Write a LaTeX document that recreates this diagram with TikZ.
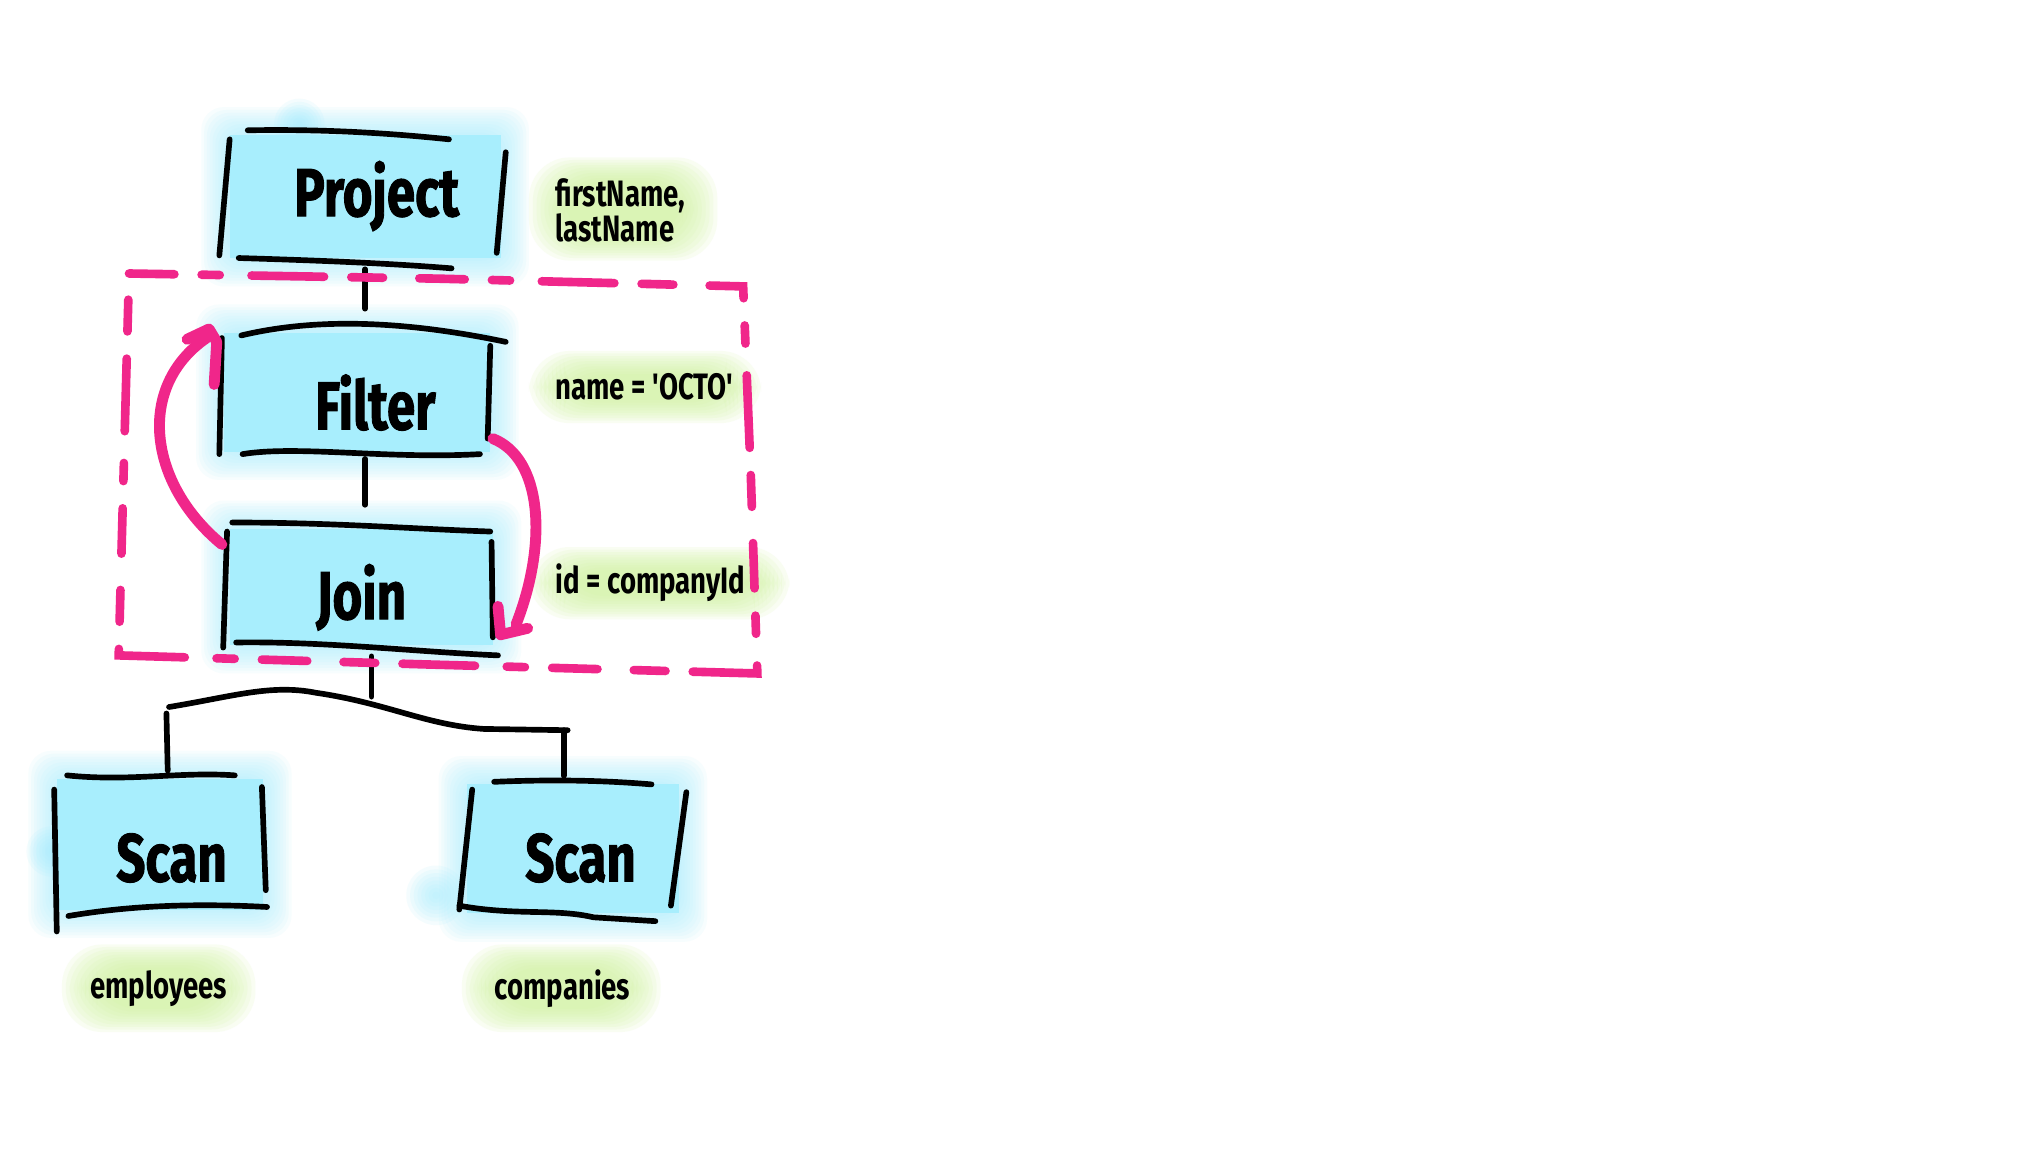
\documentclass[tikz,border=0pt]{standalone}
\usepackage{fontspec}
\newfontfamily\hand[FakeStretch=0.75]{Fira Sans}
\newfontfamily\handheavy[FakeStretch=0.75,FakeBold=1.3]{Fira Sans}
\usetikzlibrary{calc}
\definecolor{boxcyan}{HTML}{A8EEFD}
\definecolor{pinkc}{HTML}{F0268A}
\definecolor{glowgreen}{HTML}{D2F4A0}
\newcommand\cyanglow[4]{%
  \fill[boxcyan] (#1,#2) rectangle (#3,#4);
  \foreach \k in {1,...,10}{\fill[boxcyan,opacity=0.09,rounded corners=5pt] (#1-\k*2.2,#2-\k*2.2) rectangle (#3+\k*2.2,#4+\k*2.2);}}
\newcommand\cyanblob[3]{%
  \foreach \k in {1,...,8}{\fill[boxcyan,opacity=0.12] (#1,#2) circle (#3-\k*#3/9);}}
\newcommand\greenglow[4]{%
  \foreach \k in {0,...,9}{\fill[glowgreen,opacity=0.13,rounded corners=9pt] (#1+\k*3,#2+\k*2) rectangle (#3-\k*3,#4-\k*2);}}
\begin{document}
\begin{tikzpicture}[x=0.01cm,y=-0.01cm,
  sketch/.style={line width=1.25pt, line cap=round, line join=round, draw=black},
  pinkdash/.style={draw=pinkc, line width=1.9pt, line cap=round, dash pattern=on 10pt off 6pt on 4pt off 7pt on 16pt off 6pt on 7pt off 8pt},
  pinkarrow/.style={draw=pinkc, line width=2.4pt, line cap=round, line join=round},
  boxtext/.style={font=\handheavy\bfseries\fontsize{15}{18}\selectfont, inner sep=0},
  labeltext/.style={font=\hand\bfseries\fontsize{8.1}{7.8}\selectfont, inner sep=0, align=left},
  boxnode/.style={inner sep=0, minimum width=2.1cm}]
\useasboundingbox (0,0) rectangle (1568,904);
\fill[white] (0,0) rectangle (1568,904);

% glows
\cyanglow{178}{105}{388}{200}
\cyanblob{232}{96}{22}
\cyanglow{174}{258}{380}{350}
\cyanglow{178}{410}{382}{500}
\cyanglow{44}{604}{204}{705}
\cyanblob{40}{660}{22}
\cyanglow{362}{608}{526}{708}
\cyanblob{338}{694}{26}
\greenglow{410}{122}{556}{202}
\greenglow{410}{272}{590}{328}
\greenglow{410}{424}{612}{480}
\greenglow{48}{732}{198}{800}
\greenglow{358}{732}{512}{800}

% invisible box nodes
\node[boxnode, minimum height=1.12cm] (project) at (283,152) {};
\node[boxnode, minimum height=1.15cm] (filter) at (283,297.5) {};
\node[boxnode, minimum height=1.16cm] (join) at (288,450) {};
\node[inner sep=0, minimum width=1.6cm, minimum height=1.12cm] (scanL) at (130,654) {};
\node[inner sep=0, minimum width=1.6cm, minimum height=1.12cm] (scanR) at (437,658) {};

% texts
\node[boxtext] (projecttxt) at (292,152) {Project};
\node[boxtext] (filtertxt) at (291,312) {Filter};
\node[boxtext] (jointxt) at (280,463) {Join};
\node[boxtext] (scanLtxt) at (133,665) {Scan};
\node[boxtext] (scanRtxt) at (450,665) {Scan};
\node[labeltext, anchor=west] (projlabel) at (430,163) {firstName,\\lastName};
\node[labeltext, anchor=west] (filterlabel) at (430,300) {name = 'OCTO'};
\node[labeltext, anchor=west] (joinlabel) at (430,452) {id = companyId};
\node[labeltext] (emplabel) at (123,766) {employees};
\node[labeltext] (complabel) at (436,766) {companies};

% sketchy box edges
% Project
\draw[sketch] (192,101) .. controls (250,100) and (300,103) .. (348,108);
\draw[sketch] (178,108) -- (170,198);
\draw[sketch] (392,118) -- (385,196);
\draw[sketch] (185,200) .. controls (250,202) and (300,204) .. (350,208);
% Filter
\draw[sketch] (187,260) .. controls (250,245) and (320,250) .. (392,265);
\draw[sketch] (172,262) -- (170,352);
\draw[sketch] (380,268) -- (378,340);
\draw[sketch] (188,352) .. controls (230,345) and (300,356) .. (372,352);
% Join
\draw[sketch] (180,405) .. controls (260,405) and (320,410) .. (380,412);
\draw[sketch] (176,412) -- (173,502);
\draw[sketch] (381,420) -- (382,494);
\draw[sketch] (183,498) .. controls (250,497) and (320,505) .. (386,508);
% Scan left
\draw[sketch] (52,601) .. controls (100,606) and (140,598) .. (182,601);
\draw[sketch] (42,612) -- (44,722);
\draw[sketch] (203,610) -- (206,690);
\draw[sketch] (53,710) .. controls (100,702) and (150,700) .. (207,703);
% Scan right
\draw[sketch] (383,606) .. controls (430,604) and (470,605) .. (505,608);
\draw[sketch] (366,612) -- (356,705);
\draw[sketch] (532,614) -- (520,702);
\draw[sketch] (356,702) .. controls (400,710) and (430,704) .. (460,711) -- (508,714);

% connectors
\draw[sketch] (project.south) -- (filter.north);
\draw[sketch] (filter.south) -- (filter.south |- join.north);
\coordinate (fk) at (288,540);
\coordinate (fkL) at (129,553);
\coordinate (fkR) at (437,566);
\draw[sketch] (join.south) -- (fk);
\draw[sketch] (131,548) .. controls (180,540) and (210,530) .. (245,537) .. controls (300,545) and (330,562) .. (375,565) -- (440,566);
\draw[sketch] (fkL) -- (scanL.north);
\draw[sketch] (fkR) -- (scanR.north);

% pink dashed region
\draw[pinkdash] (100,212) -- (340,216) -- (576,222) -- (582,370) -- (587,522) -- (330,515) -- (92,508) -- (96,360) -- cycle;

% pink arrows
\draw[pinkarrow] (172,422) .. controls (115,375) and (105,300) .. (160,262);
\draw[pinkarrow] (145,263) -- (162,255) -- (168,265) -- (166,298);
\draw[pinkarrow] (382,340) .. controls (420,355) and (425,420) .. (400,484);
\draw[pinkarrow] (386,470) -- (388,492) -- (409,487);
\end{tikzpicture}
\end{document}
